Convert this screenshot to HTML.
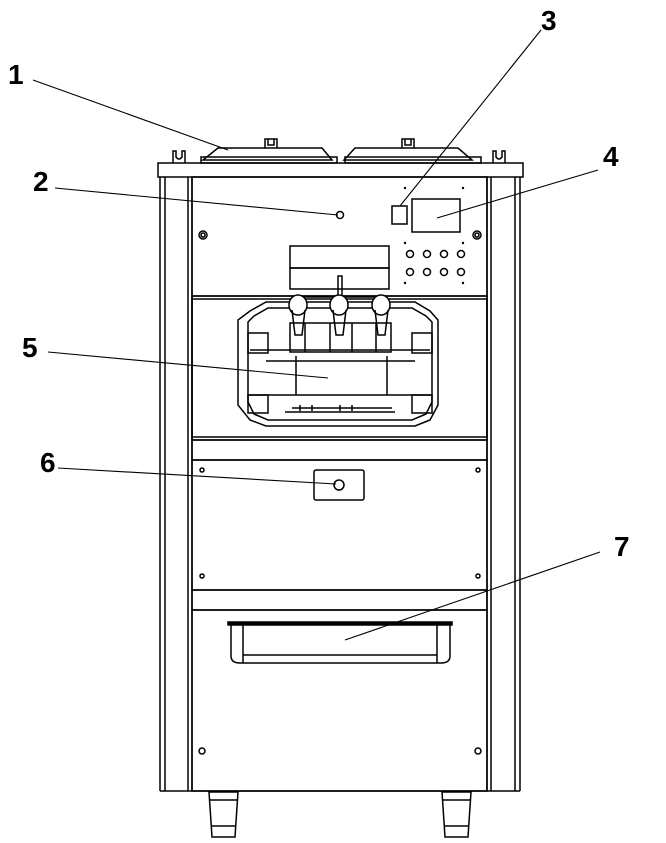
<!DOCTYPE html>
<html><head><meta charset="utf-8"><style>
html,body{margin:0;padding:0;background:#fff;}
svg{display:block}
text{font-family:"Liberation Sans",sans-serif;font-size:28px;fill:#000;font-weight:bold}
</style></head><body>
<svg width="666" height="843" viewBox="0 0 666 843" fill="none" stroke="#000" stroke-width="1.5">
<path d="M203 160 L218 148 L322 148 L332 160 Z"/>
<path d="M344 160 L355 148 L458 148 L472 160 Z"/>
<rect x="201" y="157" width="136" height="6"/>
<rect x="345" y="157" width="136" height="6"/>
<path d="M265 148 v-9 h12 v9 M268 139 v6 h6 v-6"/>
<path d="M402 148 v-9 h12 v9 M405 139 v6 h6 v-6"/>
<path d="M173 163 v-12 h3 v6 q3 4 6 0 v-6 h3 v12"/>
<path d="M493 163 v-12 h3 v6 q3 4 6 0 v-6 h3 v12"/>
<rect x="158" y="163" width="365" height="14"/>
<path d="M160 177 V791 M165 177 V791 M188 177 V791 M192 177 V791"/>
<path d="M487 177 V791 M491 177 V791 M515 177 V791 M520 177 V791"/>
<path d="M160 791 H520"/>
<rect x="192" y="177" width="295" height="119"/>
<circle cx="340" cy="215" r="3.5"/>
<circle cx="203" cy="235" r="4"/><circle cx="203" cy="235" r="2"/>
<circle cx="477" cy="235" r="4"/><circle cx="477" cy="235" r="2"/>
<rect x="392" y="206" width="15" height="18"/>
<rect x="412" y="199" width="48" height="33"/>
<g fill="#000" stroke="none">
<circle cx="405" cy="188" r="1.2"/><circle cx="463" cy="188" r="1.2"/>
<circle cx="405" cy="243" r="1.2"/><circle cx="463" cy="243" r="1.2"/>
<circle cx="405" cy="283" r="1.2"/><circle cx="463" cy="283" r="1.2"/>
</g>
<g>
<circle cx="410" cy="254" r="3.5"/><circle cx="427" cy="254" r="3.5"/><circle cx="444" cy="254" r="3.5"/><circle cx="461" cy="254" r="3.5"/>
<circle cx="410" cy="272" r="3.5"/><circle cx="427" cy="272" r="3.5"/><circle cx="444" cy="272" r="3.5"/><circle cx="461" cy="272" r="3.5"/>
</g>
<rect x="290" y="246" width="99" height="22"/>
<rect x="290" y="268" width="99" height="21"/>
<rect x="338" y="276" width="4" height="20"/>
<rect x="192" y="296" width="295" height="144"/>
<rect x="192" y="299" width="295" height="138"/>
<path d="M250 311 L266 302 H415 L430 311 L438 320 V405 L430 420 L415 426 H266 L250 420 L238 405 V320 Z"/>
<path d="M254 316 L268 308 H412 L426 316 L432 322 V402 L426 414 L412 420 H268 L254 414 L248 402 V322 Z"/>
<path d="M250 350 H430 M266 361 H415 M296 356 V395 M387 356 V395 M248 395 H432 M285 412 H395"/>
<rect x="248" y="333" width="20" height="20"/><rect x="412" y="333" width="20" height="20"/>
<rect x="248" y="395" width="20" height="18"/><rect x="412" y="395" width="20" height="18"/>
<path d="M290 323 H391 V352 H290 Z M305 323 V352 M330 323 V352 M352 323 V352 M376 323 V352"/>
<path d="M292 297 H387"/>
<ellipse cx="298" cy="305" rx="9" ry="10" fill="#fff"/><path d="M292 310 L295 335 H302 L305 310"/>
<ellipse cx="339" cy="305" rx="9" ry="10" fill="#fff"/><path d="M333 310 L336 335 H343 L346 310"/>
<ellipse cx="381" cy="305" rx="9" ry="10" fill="#fff"/><path d="M375 310 L378 335 H385 L388 310"/>
<path d="M292 408 H392 M300 405 v6 M312 405 v6 M340 405 v6 M352 405 v6"/>
<rect x="192" y="440" width="295" height="20"/>
<rect x="192" y="460" width="295" height="130"/>
<circle cx="202" cy="470" r="2"/><circle cx="478" cy="470" r="2"/>
<circle cx="202" cy="576" r="2"/><circle cx="478" cy="576" r="2"/>
<rect x="314" y="470" width="50" height="30" rx="2"/>
<circle cx="339" cy="485" r="5"/>
<rect x="192" y="590" width="295" height="20"/>
<rect x="192" y="610" width="295" height="181"/>
<rect x="228" y="622" width="224" height="3" fill="#000"/>
<path d="M231 625 V656 Q231 663 240 663 H441 Q450 663 450 656 V625 M243 625 V663 M437 625 V663 M243 655 H437"/>
<circle cx="202" cy="751" r="3"/><circle cx="478" cy="751" r="3"/>
<path d="M209 792 L212 837 H235 L238 792 Z M210 800 H237 M212 826 H235"/>
<path d="M442 792 L445 837 H468 L471 792 Z M443 800 H470 M445 826 H468"/>
<g stroke-width="1.1">
<path d="M33 80 L228 150"/>
<path d="M55 188 L338 215"/>
<path d="M541 30 L400 206"/>
<path d="M598 170 L437 218"/>
<path d="M48 352 L328 378"/>
<path d="M58 468 L336 484"/>
<path d="M600 552 L345 640"/>
</g>
<g stroke="none">
<text x="8" y="84">1</text>
<text x="33" y="191">2</text>
<text x="541" y="30">3</text>
<text x="603" y="166">4</text>
<text x="22" y="357">5</text>
<text x="40" y="472">6</text>
<text x="614" y="556">7</text>
</g>
</svg>
</body></html>
